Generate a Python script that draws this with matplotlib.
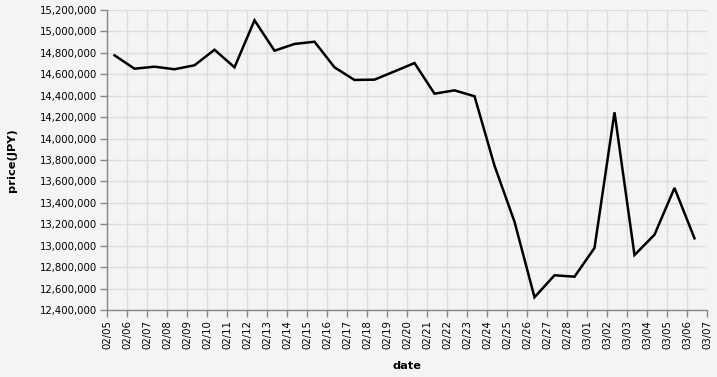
import matplotlib
matplotlib.use('Agg')
import matplotlib.pyplot as plt
import matplotlib.dates as mdates
import matplotlib.ticker as mticker
import pandas as pd

# daily price readings (JPY), sampled around 09:00
dates = pd.date_range('2025-02-05 09:00', '2025-03-06 09:00', freq='D')
prices = [14777000, 14652000, 14671000, 14647000, 14684000, 14829000, 14665000,
          15104000, 14820000, 14883000, 14904000, 14665000, 14547000, 14550000,
          14627000, 14705000, 14419000, 14450000, 14395000, 13747000, 13224000,
          12519000, 12724000, 12711000, 12979000, 14245000, 12913000, 13103000,
          13539000, 13069000]

bg = '#f4f4f4'
plt.rcParams['font.family'] = 'DejaVu Sans'

fig = plt.figure(figsize=(7.17, 3.77), dpi=100, facecolor=bg)
ax = fig.add_axes([107/717, 1 - 310/377, 600/717, 300/377], facecolor=bg)

ax.plot(dates, prices, color='black', linewidth=1.8, solid_joinstyle='miter')

ax.set_xlim(pd.Timestamp('2025-02-05'), pd.Timestamp('2025-03-07'))
ax.set_ylim(12400000, 15200000)

ax.xaxis.set_major_locator(mdates.DayLocator())
ax.xaxis.set_major_formatter(mdates.DateFormatter('%m/%d'))
ax.yaxis.set_major_locator(mticker.MultipleLocator(200000))
ax.yaxis.set_major_formatter(mticker.FuncFormatter(lambda v, p: f'{int(v):,}'))

ax.grid(True, color='#dddddd', linewidth=1)
ax.set_axisbelow(True)
for s in ['top', 'right']:
    ax.spines[s].set_visible(False)
for s in ['left', 'bottom']:
    ax.spines[s].set_color('#888888')
    ax.spines[s].set_linewidth(1)

ax.tick_params(axis='both', colors='#888888', length=5, width=1, labelcolor='black', labelsize=7.3)
ax.tick_params(axis='x', labelrotation=90, pad=2)
ax.tick_params(axis='y', pad=2)

fig.text(407/717, 1 - 366/377, 'date', ha='center', va='center', fontweight='bold', fontsize=8.2)
fig.text(12/717, 1 - 160/377, 'price(JPY)', ha='center', va='center', rotation=90,
         fontweight='bold', fontsize=8.2)

fig.savefig('out.png', dpi=100, facecolor=bg)
